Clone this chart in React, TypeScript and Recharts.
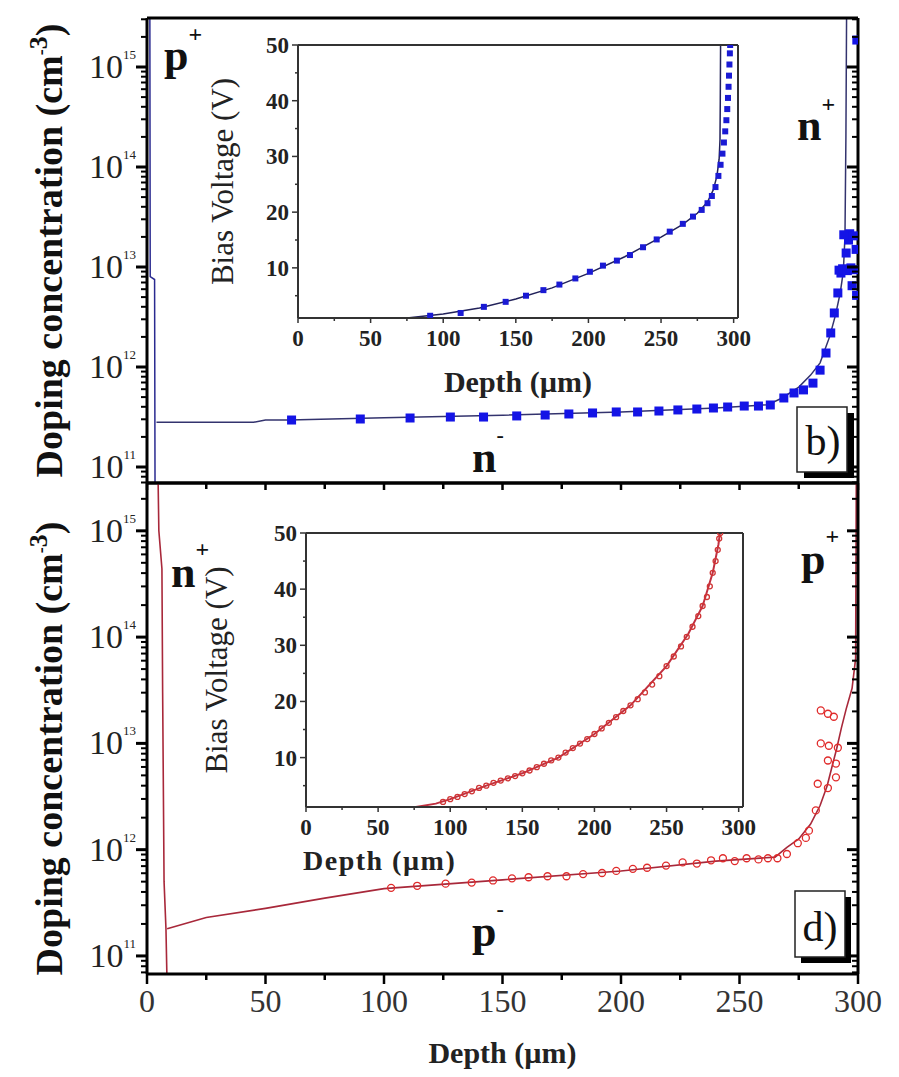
import React from "react";
import { ComposedChart, Line, Scatter, XAxis, YAxis } from "recharts";

const SERIF = '"Liberation Serif", "Times New Roman", Times, serif';

// ---------- ticks ----------
const depthTicks = [0, 25, 50, 75, 100, 125, 150, 175, 200, 225, 250, 275, 300];
const depthLabels = [0, 50, 100, 150, 200, 250, 300];
const concDecades = [1e10, 1e11, 1e12, 1e13, 1e14, 1e15];
const concMultipliers = [1, 2, 3, 4, 5, 6, 7, 8, 9];
const voltTicks = [5, 10, 15, 20, 25, 30, 35, 40, 45, 50];
const voltLabels = [10, 20, 30, 40, 50];

// ---------- panel b) : n-type ----------
// measured points (filled squares)
const bDepth = [
  61, 90, 111, 128, 142, 156, 168, 178, 188, 198, 207, 216, 224, 232, 239, 245, 252, 258, 263,
  268.7, 273, 277, 281, 284, 286.5, 288.5, 290, 291.5, 292.8, 295, 296,
  292, 293.5, 295.5, 297, 298.5, 294, 296.5, 298, 299.2, 297.5, 299.4, 299.5,
];
const bConc = [
  2.95e11, 3.02e11, 3.09e11, 3.16e11, 3.16e11, 3.24e11, 3.31e11, 3.39e11, 3.47e11, 3.55e11, 3.55e11,
  3.63e11, 3.72e11, 3.8e11, 3.89e11, 3.98e11, 4.07e11, 4.07e11, 4.17e11,
  4.9e11, 5.5e11, 5.9e11, 6.9e11, 9.3e11, 1.38e12, 2.19e12, 3.47e12, 5.5e12, 8.7e12, 1.38e13, 1.86e13,
  9.3e12, 9.6e12, 9.2e12, 9.8e12, 9.4e12, 2.1e13, 2.15e13, 2.05e13, 1.5e13, 6.5e12, 5.2e12, 1.86e15,
];
// fitted profile (line)
const bLineDepth = [4, 45, 50, 60, 100, 150, 200, 240, 262, 268, 275, 280, 284, 288, 290.5, 292.5, 293.8, 294.5, 294.9, 295.2];
const bLineConc = [2.8e11, 2.8e11, 2.95e11, 2.95e11, 3.1e11, 3.3e11, 3.55e11, 3.9e11, 4.2e11, 4.9e11, 6.3e11, 8.3e11, 1.1e12, 2.0e12, 3.3e12, 5.5e12, 9e12, 2e13, 2e14, 4e15];
// p+ edge
const bEdgeDepth = [1.2, 1.35, 3.2, 3.4];
const bEdgeConc = [4e15, 8e12, 7.5e12, 5e10];
// inset: C-V derived depth vs bias
const bInsetDepth = [
  91, 112, 128, 143, 157, 169, 180, 191, 201, 210, 219.6, 228.6, 237.6, 247, 256, 265, 272, 278, 282,
  285, 287.5, 289.5, 291, 292.3, 293.3, 294.2, 295, 295.6, 296.1, 296.5, 296.8, 297.1, 297.4, 297.6,
];
const bInsetVolt = [
  1.4, 1.9, 3.0, 3.9, 5.0, 6.0, 7.0, 8.1, 9.3, 10.4, 11.3, 12.3, 13.7, 15.1, 16.5, 17.9, 19.2, 20.4, 21.6,
  22.9, 24.5, 26.5, 28.5, 30.5, 32.5, 34.5, 36.5, 38.5, 40.5, 42.5, 44.5, 46.5, 48.5, 50,
];
const bInsetLineDepth = [75, 100, 125, 150, 175, 200, 225, 250, 265, 275, 282, 286, 288.5, 290, 290.6, 290.8, 291];
const bInsetLineVolt = [1.0, 1.7, 2.8, 4.4, 6.4, 9.0, 12.0, 15.5, 17.8, 19.8, 21.8, 24, 26.5, 29.5, 33, 40, 50];

// ---------- panel d) : p-type ----------
const dDepth = [
  103, 114, 126, 137, 146, 154, 161, 169, 177, 184, 192, 198, 205, 211, 219, 226, 232, 238, 243, 248,
  253, 258, 262, 266, 270, 274.6, 278, 279.3, 282.2, 283, 287.3, 290.7, 287.3, 290.7, 284.3, 287.7,
  291.5, 284.3, 287.3, 289.8,
];
const dConc = [
  4.37e11, 4.57e11, 4.79e11, 4.9e11, 5.13e11, 5.37e11, 5.5e11, 5.62e11, 5.62e11, 5.89e11, 6.03e11, 6.31e11,
  6.6e11, 6.76e11, 7.08e11, 7.59e11, 7.4e11, 7.94e11, 8.3e11, 7.8e11, 8.3e11, 8.1e11, 8.3e11, 8.3e11,
  9.1e11, 1.15e12, 1.29e12, 1.51e12, 2.34e12, 4.17e12, 3.8e12, 4.79e12, 6.9e12, 6.46e12, 1e13, 9.5e12,
  9.1e12, 2.04e13, 1.9e13, 1.78e13,
];
const dLineDepth = [8.5, 25, 50, 75, 100, 150, 200, 240, 265, 270, 275, 280, 284, 287, 289, 291, 293, 295, 297.5, 299, 299.3];
const dLineConc = [1.8e11, 2.3e11, 2.8e11, 3.5e11, 4.3e11, 5.2e11, 6.3e11, 7.8e11, 8.5e11, 1.05e12, 1.26e12, 1.74e12, 2.6e12, 4.0e12, 6.0e12, 8.9e12, 1.4e13, 2.1e13, 3.3e13, 6.3e13, 4e15];
const dEdgeDepth = [4.6, 5.0, 6.3, 6.6, 7.2, 8.0, 8.5];
const dEdgeConc = [4e15, 1e15, 4.4e14, 3e13, 5e11, 1.8e11, 5e10];
const dInsetDepth = [
  95, 100, 105, 110, 115, 120, 125, 130, 135, 140, 145, 150, 155, 160, 165, 170, 175, 180, 185, 190,
  195, 200, 205, 210, 215, 220, 225, 230, 235, 240, 245, 250, 255, 260, 264, 268, 272, 275, 278, 280,
  282, 284, 285.5, 286.5, 287.2,
];
const dInsetVolt = [
  2.1, 2.6, 3.0, 3.5, 4.0, 4.6, 5.0, 5.5, 5.9, 6.3, 6.7, 7.2, 7.7, 8.3, 8.9, 9.5, 10.0, 10.9, 11.7, 12.5,
  13.3, 14.2, 15.2, 16.2, 17.2, 18.3, 19.3, 20.4, 21.6, 23.0, 24.5, 26.3, 28.0, 29.8, 31.5, 33.3, 35.2,
  37.0, 38.6, 40.5, 42.9, 45.0, 47.0, 49.0, 50,
];
const dInsetLineDepth = [74, 90, 100, 125, 150, 175, 200, 225, 250, 265, 275, 282, 286, 287.5];
const dInsetLineVolt = [1.1, 1.8, 2.6, 5.0, 7.2, 10.0, 14.2, 19.3, 26.3, 32, 37, 42.9, 48, 51];

// ---------- helpers ----------
const zip = (xs: number[], ys: number[], key: string) => xs.map((d, i) => ({ d, [key]: ys[i] }));

const CONC_B: [number, number] = [Math.pow(10, 10.84), Math.pow(10, 15.49)];
const CONC_D: [number, number] = [Math.pow(10, 10.83), Math.pow(10, 15.45)];
const concTicksFor = (dom: [number, number]) =>
  concDecades.flatMap((dec) => concMultipliers.map((m) => m * dec)).filter((v) => v >= dom[0] && v <= dom[1]);
const isDecade = (v: number) => Math.abs(Math.log10(v) - Math.round(Math.log10(v))) < 1e-6;

// ---------- tick renderers ----------
function ConcTickLeft(p: any) {
  const { x, y, payload } = p;
  const v = payload.value;
  const major = isDecade(v);
  return (
    <g>
      <line x1={x} x2={x - (major ? 11 : 6)} y1={y} y2={y} stroke="#000" strokeWidth={major ? 3 : 2} />
      {major ? (
        <text x={x - 11} y={y + 11} textAnchor="end" fontFamily={SERIF} fontSize={34} fill="#222">
          10<tspan dy={-19} fontSize={13}>{Math.round(Math.log10(v))}</tspan>
        </text>
      ) : null}
    </g>
  );
}
function ConcTickRight(p: any) {
  const { x, y, payload } = p;
  const major = isDecade(payload.value);
  return <line x1={x} x2={x - (major ? 11 : 6)} y1={y} y2={y} stroke="#000" strokeWidth={major ? 3 : 2} />;
}
function DepthTickTop(p: any) {
  const { x, y, payload } = p;
  const major = depthLabels.includes(payload.value);
  return <line x1={x} x2={x} y1={y} y2={y + (major ? 9 : 5)} stroke="#000" strokeWidth={2.5} />;
}
function DepthTickDown(p: any) {
  const { x, y, payload } = p;
  const major = depthLabels.includes(payload.value);
  return <line x1={x} x2={x} y1={y} y2={y + (major ? 10 : 6)} stroke="#000" strokeWidth={2.5} />;
}
function DepthTickLabelled(p: any) {
  const { x, y, payload } = p;
  const major = depthLabels.includes(payload.value);
  return (
    <g>
      <line x1={x} x2={x} y1={y} y2={y + (major ? 10 : 6)} stroke="#000" strokeWidth={2.5} />
      {major ? (
        <text x={x} y={y + 38} textAnchor="middle" fontFamily={SERIF} fontSize={32} fill="#333">
          {payload.value}
        </text>
      ) : null}
    </g>
  );
}
function VoltTick(p: any) {
  const { x, y, payload } = p;
  const major = voltLabels.includes(payload.value);
  return (
    <g>
      <line x1={x} x2={x - (major ? 6 : 3)} y1={y} y2={y} stroke="#333" strokeWidth={1.5} />
      {major ? (
        <text x={x - 9} y={y + 8} textAnchor="end" fontFamily={SERIF} fontWeight="bold" fontSize={23} fill="#222">
          {payload.value}
        </text>
      ) : null}
    </g>
  );
}
function VoltTickRight(p: any) {
  const { x, y, payload } = p;
  const major = voltLabels.includes(payload.value);
  return <line x1={x} x2={x - (major ? 5 : 3)} y1={y} y2={y} stroke="#333" strokeWidth={1.5} />;
}
function InsetDepthTick(p: any) {
  const { x, y, payload } = p;
  const major = depthLabels.includes(payload.value);
  return (
    <g>
      <line x1={x} x2={x} y1={y} y2={y + (major ? 5 : 3)} stroke="#333" strokeWidth={1.5} />
      {major ? (
        <text x={x} y={y + 28} textAnchor="middle" fontFamily={SERIF} fontWeight="bold" fontSize={23} fill="#222">
          {payload.value}
        </text>
      ) : null}
    </g>
  );
}
const NoTick = () => <g />;

// ---------- axis titles ----------
const concTitle = (dy: number) => (props: any) => {
  const vb = props.viewBox || { x: 0, y: 0, width: 147, height: 465 };
  const cx = vb.x + 62;
  const cy = vb.y + vb.height / 2 + dy;
  return (
    <text x={cx} y={cy} transform={`rotate(-90 ${cx} ${cy})`} textAnchor="middle" fontFamily={SERIF}
      fontWeight="bold" fontSize={38} fill="#111">
      Doping concentration (cm<tspan dy={-15} fontSize={18}>-</tspan><tspan fontSize={26}>3</tspan>
      <tspan dy={15}>)</tspan>
    </text>
  );
};
const biasTitle = (cx0: number, dy: number) => (props: any) => {
  const vb = props.viewBox || { x: 0, y: 0, width: 100, height: 273 };
  const cx = vb.x + cx0;
  const cy = vb.y + vb.height / 2 + dy;
  return (
    <text x={cx} y={cy} transform={`rotate(-90 ${cx} ${cy})`} textAnchor="middle" fontFamily={SERIF}
      fontSize={31} fill="#222">
      Bias Voltage (V)
    </text>
  );
};

const blueSquare = (size: number, fill: string) => (p: any) =>
  <rect x={p.cx - size / 2} y={p.cy - size / 2} width={size} height={size} fill={fill} />;
const redCircle = (r: number, stroke: string) => (p: any) =>
  <circle cx={p.cx} cy={p.cy} r={r} fill="none" stroke={stroke} strokeWidth={1.3} />;

const frame = { stroke: "#000", strokeWidth: 3 };
const insetFrame = { stroke: "#333", strokeWidth: 2 };

export default function App() {
  const abs = (left: number, top: number): React.CSSProperties => ({ position: "absolute", left, top });
  return (
    <div style={{ position: "absolute", left: 0, top: 0, width: 899, height: 1077, background: "#fff" }}>
      {/* panel b) */}
      <div style={abs(0, 0)}>
        <ComposedChart width={899} height={490} margin={{ top: 17, right: 40, bottom: 6, left: 0 }}>
          <XAxis dataKey="d" type="number" domain={[0, 300]} ticks={depthTicks} interval={0} height={1}
            axisLine={frame} tickLine={false} tickSize={0} tickMargin={0} tick={DepthTickDown} allowDataOverflow />
          <XAxis xAxisId="t" orientation="top" type="number" domain={[0, 300]} ticks={depthTicks} interval={0}
            height={1} axisLine={frame} tickLine={false} tickSize={0} tickMargin={0} tick={DepthTickTop} />
          <YAxis dataKey="n" scale="log" type="number" domain={CONC_B} ticks={concTicksFor(CONC_B)} interval={0}
            width={147} axisLine={frame} tickLine={false} tickSize={0} tickMargin={0} tick={ConcTickLeft}
            allowDataOverflow label={concTitle(0)} />
          <YAxis yAxisId="r" orientation="right" scale="log" type="number" domain={CONC_B}
            ticks={concTicksFor(CONC_B)} interval={0} width={1} axisLine={frame} tickLine={false} tickSize={0}
            tickMargin={0} tick={ConcTickRight} allowDataOverflow />
          <Line data={zip(bEdgeDepth, bEdgeConc, "n")} dataKey="n" type="linear" stroke="#2a2a90" strokeWidth={1.5}
            dot={false} isAnimationActive={false} />
          <Line data={zip(bLineDepth, bLineConc, "n")} dataKey="n" type="linear" stroke="#33336e" strokeWidth={1.5}
            dot={false} isAnimationActive={false} />
          <Scatter data={zip(bDepth, bConc, "n")} dataKey="n" shape={blueSquare(9, "#1414e6")} isAnimationActive={false} />
        </ComposedChart>
      </div>

      {/* panel d) */}
      <div style={abs(0, 476)}>
        <ComposedChart width={899} height={601} margin={{ top: 6, right: 40, bottom: 0, left: 0 }}>
          <XAxis dataKey="d" type="number" domain={[0, 300]} ticks={depthTicks} interval={0} height={103}
            axisLine={frame} tickLine={false} tickSize={0} tickMargin={0} tick={DepthTickLabelled} allowDataOverflow
            label={(props: any) => {
              const vb = props.viewBox || { x: 147, y: 498, width: 711, height: 103 };
              return (
                <text x={vb.x + vb.width / 2} y={vb.y + 89} textAnchor="middle" fontFamily={SERIF}
                  fontWeight="bold" fontSize={30} fill="#222">
                  Depth (µm)
                </text>
              );
            }} />
          <XAxis xAxisId="t" orientation="top" type="number" domain={[0, 300]} ticks={depthTicks} interval={0}
            height={1} axisLine={frame} tickLine={false} tickSize={0} tickMargin={0} tick={DepthTickTop} />
          <YAxis dataKey="n" scale="log" type="number" domain={CONC_D} ticks={concTicksFor(CONC_D)} interval={0}
            width={147} axisLine={frame} tickLine={false} tickSize={0} tickMargin={0} tick={ConcTickLeft}
            allowDataOverflow label={concTitle(20)} />
          <YAxis yAxisId="r" orientation="right" scale="log" type="number" domain={CONC_D}
            ticks={concTicksFor(CONC_D)} interval={0} width={1} axisLine={frame} tickLine={false} tickSize={0}
            tickMargin={0} tick={ConcTickRight} allowDataOverflow />
          <Line data={zip(dEdgeDepth, dEdgeConc, "n")} dataKey="n" type="linear" stroke="#a8283a" strokeWidth={1.6}
            dot={false} isAnimationActive={false} />
          <Line data={zip(dLineDepth, dLineConc, "n")} dataKey="n" type="linear" stroke="#a8283a" strokeWidth={1.6}
            dot={false} isAnimationActive={false} />
          <Scatter data={zip(dDepth, dConc, "n")} dataKey="n" shape={redCircle(3.5, "#e02a2a")} isAnimationActive={false} />
        </ComposedChart>
      </div>

      {/* inset of b) */}
      <div style={abs(200, 30)}>
        <ComposedChart width={560} height={370} margin={{ top: 14, right: 21, bottom: 0, left: 0 }}>
          <XAxis dataKey="d" type="number" domain={[0, 303]} ticks={depthTicks} interval={0} height={82}
            axisLine={insetFrame} tickLine={false} tickSize={0} tickMargin={0} tick={InsetDepthTick}
            label={(props: any) => {
              const vb = props.viewBox || { x: 98, y: 288, width: 440, height: 82 };
              return (
                <text x={vb.x + vb.width / 2} y={vb.y + 74} textAnchor="middle" fontFamily={SERIF}
                  fontWeight="bold" fontSize={30} fill="#222">
                  Depth (µm)
                </text>
              );
            }} />
          <XAxis xAxisId="t" orientation="top" type="number" domain={[0, 303]} height={1} axisLine={insetFrame}
            tickLine={false} tick={NoTick} />
          <YAxis dataKey="v" type="number" domain={[1, 50]} ticks={voltTicks} interval={0} width={98}
            axisLine={insetFrame} tickLine={false} tickSize={0} tickMargin={0} tick={VoltTick} allowDataOverflow
            label={biasTitle(33, 0)} />
          <YAxis yAxisId="r" orientation="right" type="number" domain={[1, 50]} ticks={voltTicks} interval={0}
            width={1} axisLine={insetFrame} tickLine={false} tickSize={0} tickMargin={0} tick={VoltTickRight} />
          <Line data={zip(bInsetLineDepth, bInsetLineVolt, "v")} dataKey="v" type="linear" stroke="#22225a"
            strokeWidth={1.5} dot={false} isAnimationActive={false} />
          <Scatter data={zip(bInsetDepth, bInsetVolt, "v")} dataKey="v" shape={blueSquare(6, "#1a1ad4")}
            isAnimationActive={false} />
        </ComposedChart>
      </div>

      {/* inset of d) */}
      <div style={abs(200, 515)}>
        <ComposedChart width={560} height={370} margin={{ top: 17, right: 16, bottom: 0, left: 0 }}>
          <XAxis dataKey="d" type="number" domain={[0, 303]} ticks={depthTicks} interval={0} height={78}
            axisLine={insetFrame} tickLine={false} tickSize={0} tickMargin={0} tick={InsetDepthTick}
            label={(props: any) => {
              const vb = props.viewBox || { x: 106, y: 292, width: 437, height: 78 };
              return (
                <text x={vb.x - 3} y={vb.y + 63} textAnchor="start" fontFamily={SERIF} fontWeight="bold"
                  fontSize={28} letterSpacing={1.5} fill="#222">
                  Depth (µm)
                </text>
              );
            }} />
          <XAxis xAxisId="t" orientation="top" type="number" domain={[0, 303]} height={1} axisLine={insetFrame}
            tickLine={false} tick={NoTick} />
          <YAxis dataKey="v" type="number" domain={[1.2, 50]} ticks={voltTicks} interval={0} width={106}
            axisLine={insetFrame} tickLine={false} tickSize={0} tickMargin={0} tick={VoltTick} allowDataOverflow
            label={biasTitle(27, 0)} />
          <YAxis yAxisId="r" orientation="right" type="number" domain={[1.2, 50]} ticks={voltTicks} interval={0}
            width={1} axisLine={insetFrame} tickLine={false} tickSize={0} tickMargin={0} tick={VoltTickRight} />
          <Line data={zip(dInsetLineDepth, dInsetLineVolt, "v")} dataKey="v" type="linear" stroke="#c03040"
            strokeWidth={2} dot={false} isAnimationActive={false} />
          <Scatter data={zip(dInsetDepth, dInsetVolt, "v")} dataKey="v" shape={redCircle(2.5, "#d03535")}
            isAnimationActive={false} />
        </ComposedChart>
      </div>

      {/* region annotations */}
      <svg width={899} height={1077} style={{ position: "absolute", left: 0, top: 0, pointerEvents: "none" }}
        fontFamily={SERIF} fill="#111">
        <text x={164} y={70} fontSize={44} fontWeight="bold">p<tspan dy={-28} fontSize={24}>+</tspan></text>
        <text x={797} y={140} fontSize={44} fontWeight="bold">n<tspan dy={-28} fontSize={24}>+</tspan></text>
        <text x={472} y={472} fontSize={44} fontWeight="bold">n<tspan dy={-30} fontSize={22}>-</tspan></text>
        <rect x={804} y={413} width={50} height={65} fill="#000" />
        <rect x={797} y={407} width={50} height={65} fill="#fff" stroke="#222" strokeWidth={1.5} />
        <text x={823} y={455} textAnchor="middle" fontSize={42}>b)</text>

        <text x={171} y={587} fontSize={44} fontWeight="bold">n<tspan dy={-30} fontSize={24}>+</tspan></text>
        <text x={801} y={574} fontSize={44} fontWeight="bold">p<tspan dy={-30} fontSize={24}>+</tspan></text>
        <text x={472} y={946} fontSize={44} fontWeight="bold">p<tspan dy={-30} fontSize={22}>-</tspan></text>
        <rect x={801} y={897} width={50} height={66} fill="#000" />
        <rect x={795} y={891} width={50} height={66} fill="#fff" stroke="#222" strokeWidth={1.5} />
        <text x={820} y={941} textAnchor="middle" fontSize={42}>d)</text>
      </svg>
    </div>
  );
}
